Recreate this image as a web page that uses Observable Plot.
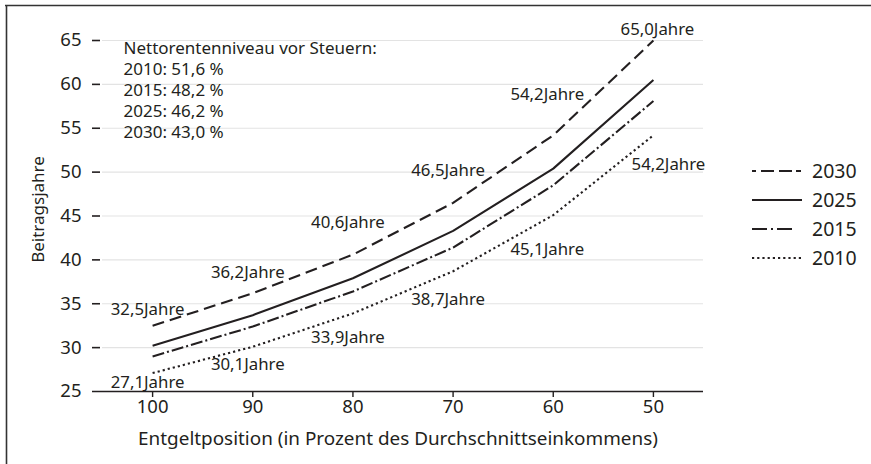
<!DOCTYPE html>
<html>
<head>
<meta charset="utf-8">
<script src="https://cdn.jsdelivr.net/npm/d3@7"></script>
<script src="https://cdn.jsdelivr.net/npm/@observablehq/plot@0.6"></script>
<style>
  html, body { margin: 0; padding: 0; background: #fff; }
  #chart { width: 871px; height: 464px; }
</style>
</head>
<body>
<div id="chart"></div>
<script>
// Data
const positions = [100, 90, 80, 70, 60, 50];
const years = ["2030", "2025", "2015", "2010"];
const values2030 = [32.5, 36.2, 40.6, 46.5, 54.2, 65.0];
const values2025 = [30.2, 33.7, 37.9, 43.3, 50.4, 60.5];
const values2015 = [29.0, 32.4, 36.4, 41.4, 48.5, 58.1];
const values2010 = [27.1, 30.1, 33.9, 38.7, 45.1, 54.2];
const levelYears = ["2010", "2015", "2025", "2030"];
const levelValues = ["51,6", "48,2", "46,2", "43,0"];
const yTicks = [25, 30, 35, 40, 45, 50, 55, 60, 65];

// Styles
const ink = "#231f20";
const font = "'Noto Sans', sans-serif";
const dash = {"2030": "12,6", "2025": null, "2015": "12,3,2,3", "2010": "2.2,3"};
const seriesValues = {"2030": values2030, "2025": values2025, "2015": values2015, "2010": values2010};
// label offsets (layout only)
const dy2030 = [-16, -21, -32, -32, -41, -11];
const dx2030 = [-5, -5, -5, -5, -6, 4];
const dy2010 = [10, 18, 24, 28, 34, 29];
const dx2010 = [-5, -5, -5, -5, -6, 15];

const rows = years.flatMap(yr => positions.map((p, i) => ({year: yr, pos: p, value: seriesValues[yr][i]})));

const fmt = v => v.toFixed(1).replace(".", ",") + "Jahre";

const labelMarks = [];
positions.forEach((p, i) => {
  labelMarks.push(Plot.text([{pos: p, value: values2030[i]}], {
    x: "pos", y: "value", text: d => fmt(d.value), dx: dx2030[i], dy: dy2030[i],
    fill: ink, fontSize: 16.8, textAnchor: "middle"
  }));
  labelMarks.push(Plot.text([{pos: p, value: values2010[i]}], {
    x: "pos", y: "value", text: d => fmt(d.value), dx: dx2010[i], dy: dy2010[i],
    fill: ink, fontSize: 16.8, textAnchor: "middle"
  }));
});

const noteText = "Nettorentenniveau vor Steuern:\n" + levelYears.map((y, i) => `${y}: ${levelValues[i]} %`).join("\n");

const plot = Plot.plot({
  width: 871,
  height: 464,
  marginLeft: 92,
  marginRight: 168,
  marginTop: 40,
  marginBottom: 73,
  style: {fontFamily: font, color: ink, background: "#fff", overflow: "visible"},
  x: {domain: [106, 45], ticks: positions},
  y: {domain: [25, 65], ticks: yTicks},
  marks: [
    Plot.ruleY(yTicks.filter(t => t > 25), {x1: 105, x2: 45, stroke: "#e3e3e3", strokeWidth: 1.2}),
    Plot.ruleY(yTicks.filter(t => t > 25), {x1: 106, x2: 105.2, stroke: ink, strokeWidth: 1.6}),
    Plot.ruleY([25], {stroke: ink, strokeWidth: 1.6}),
    Plot.axisX({ticks: positions, tickSize: 6, tickPadding: 2, fontSize: 18.5, label: null, stroke: ink, strokeWidth: 1.4, tickFormat: d => String(d)}),
    Plot.axisY({ticks: yTicks, tickSize: 0, tickPadding: 11, fontSize: 18.5, label: null, tickFormat: d => String(d)}),
    ...years.map(yr => Plot.line(rows.filter(r => r.year === yr), {
      x: "pos", y: "value", stroke: ink, strokeWidth: 2.1,
      strokeDasharray: dash[yr], strokeLinecap: "butt", curve: "linear"
    })),
    ...labelMarks,
    Plot.text([noteText], {frameAnchor: "top-left", dx: 31, dy: -1, lineAnchor: "top", textAnchor: "start", lineHeight: 1.235, fontSize: 17, fill: ink}),
    Plot.text(["Entgeltposition (in Prozent des Durchschnittseinkommens)"], {frameAnchor: "bottom", dy: 47, lineAnchor: "middle", fontSize: 18.9, fill: ink}),
    Plot.text(["Beitragsjahre"], {frameAnchor: "left", dx: -54, dy: -6.5, rotate: -90, textAnchor: "middle", lineAnchor: "middle", fontSize: 17, fill: ink})
  ]
});

document.getElementById("chart").appendChild(plot);

// Legend and outer border drawn into the same SVG
const svg = d3.select(plot);
const legendX = 752, legendY0 = 171, legendStep = 29;
years.forEach((yr, i) => {
  const y = legendY0 + i * legendStep;
  svg.append("line")
    .attr("x1", legendX).attr("x2", legendX + 50).attr("y1", y).attr("y2", y)
    .attr("stroke", ink).attr("stroke-width", 2.1)
    .attr("stroke-dasharray", yr === "2030" ? "4,5,13,5,13" : yr === "2015" ? "15,4,2,4,15" : yr === "2010" ? "2.2,3" : null);
  svg.append("text")
    .attr("x", legendX + 60).attr("y", y).attr("dy", "0.35em")
    .attr("text-anchor", "start")
    .attr("fill", ink).attr("font-size", 19.5).attr("font-family", font)
    .text(yr);
});
svg.append("line").attr("x1", 5).attr("x2", 871).attr("y1", 5.5).attr("y2", 5.5).attr("stroke", "#333").attr("stroke-width", 1.6);
svg.append("line").attr("x1", 6.5).attr("x2", 6.5).attr("y1", 5).attr("y2", 464).attr("stroke", "#333").attr("stroke-width", 1.6);
</script>
</body>
</html>
